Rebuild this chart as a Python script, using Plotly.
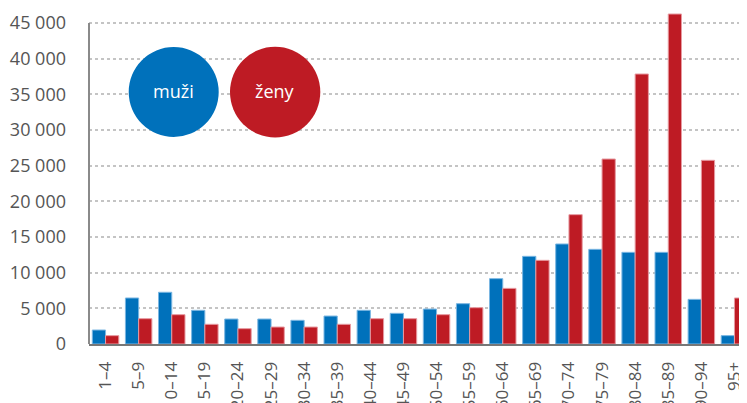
import plotly.graph_objects as go

categories = ["1–4", "5–9", "10–14", "15–19", "20–24", "25–29", "30–34", "35–39",
              "40–44", "45–49", "50–54", "55–59", "60–64", "65–69", "70–74", "75–79",
              "80–84", "85–89", "90–94", "95+"]
muzi = [1960, 6450, 7250, 4720, 3500, 3500, 3320, 3920, 4720, 4300, 4900, 5650,
        9160, 12290, 14020, 13270, 12850, 12850, 6260, 1170]
zeny = [1170, 3550, 4110, 2760, 2150, 2380, 2380, 2760, 3550, 3550, 4110, 5090,
        7800, 11730, 18130, 25930, 37850, 46260, 25750, 6450]
y_tickvals = [0, 5000, 10000, 15000, 20000, 25000, 30000, 35000, 40000, 45000]
y_ticktext = ["0", "5 000", "10 000", "15 000", "20 000", "25 000", "30 000",
              "35 000", "40 000", "45 000"]
series_names = ["muži", "ženy"]

BLUE = "#0071bb"
RED = "#be1b24"
FONT = "Open Sans"
GRAY = "#555555"

fig = go.Figure()
fig.add_trace(go.Bar(x=categories, y=muzi, name=series_names[0],
                     marker=dict(color=BLUE, line=dict(color="#7ab6e2", width=1))))
fig.add_trace(go.Bar(x=categories, y=zeny, name=series_names[1],
                     marker=dict(color=RED, line=dict(color="#e79aa1", width=1))))

# page body has an 8px default margin: figure coords = screen coords - 8
OFF = 8
W, H = 747 - OFF, 403 - OFF
L = 89 - OFF
ZERO_Y = 344 - OFF
B = H - ZERO_Y
pw, ph = W - L, ZERO_Y
pitch = 33.1

def px(x):
    return (x - OFF - L) / pw

def py(y):
    return (ZERO_Y - (y - OFF)) / ph

shapes = [
    dict(type="line", xref="paper", yref="y", x0=0, x1=0, y0=0, y1=45000,
         line=dict(color="#8a8a8a", width=2), layer="above"),
    dict(type="circle", xref="paper", yref="paper",
         x0=px(128.7), x1=px(218.7), y0=py(137), y1=py(47),
         fillcolor=BLUE, line=dict(width=0), layer="above"),
    dict(type="circle", xref="paper", yref="paper",
         x0=px(230), x1=px(320.3), y0=py(137.5), y1=py(46.7),
         fillcolor=RED, line=dict(width=0), layer="above"),
]
annotations = [
    dict(text=series_names[0], xref="paper", yref="paper", x=px(173.7), y=py(91),
         xanchor="center", yanchor="middle",
         showarrow=False, font=dict(family=FONT, size=18, color="white")),
    dict(text=series_names[1], xref="paper", yref="paper", x=px(275), y=py(91),
         xanchor="center", yanchor="middle",
         showarrow=False, font=dict(family=FONT, size=18, color="white")),
]

fig.update_layout(
    width=W, height=H,
    margin=dict(l=L, r=0, t=0, b=B, pad=0, autoexpand=False),
    paper_bgcolor="white", plot_bgcolor="white",
    barmode="group", bargap=0.2, bargroupgap=0,
    showlegend=False,
    font=dict(family=FONT, size=17, color=GRAY),
    shapes=shapes, annotations=annotations,
    xaxis=dict(range=[-0.5, -0.5 + pw / pitch], showgrid=False, showline=True,
               linecolor="#777777", linewidth=2, tickangle=-90, ticks="",
               tickfont=dict(family=FONT, size=17, color=GRAY), automargin=False,
               ticklabelstandoff=9, fixedrange=True),
    yaxis=dict(range=[0, ph / 321 * 45000], tickvals=y_tickvals, ticktext=y_ticktext,
               showgrid=True, gridcolor="#c4c4c4", griddash="dot", gridwidth=1.5,
               zeroline=False, showline=False, ticks="", automargin=False,
               tickfont=dict(family=FONT, size=18, color=GRAY),
               ticklabelstandoff=22),
)

fig.write_html("out.html")
